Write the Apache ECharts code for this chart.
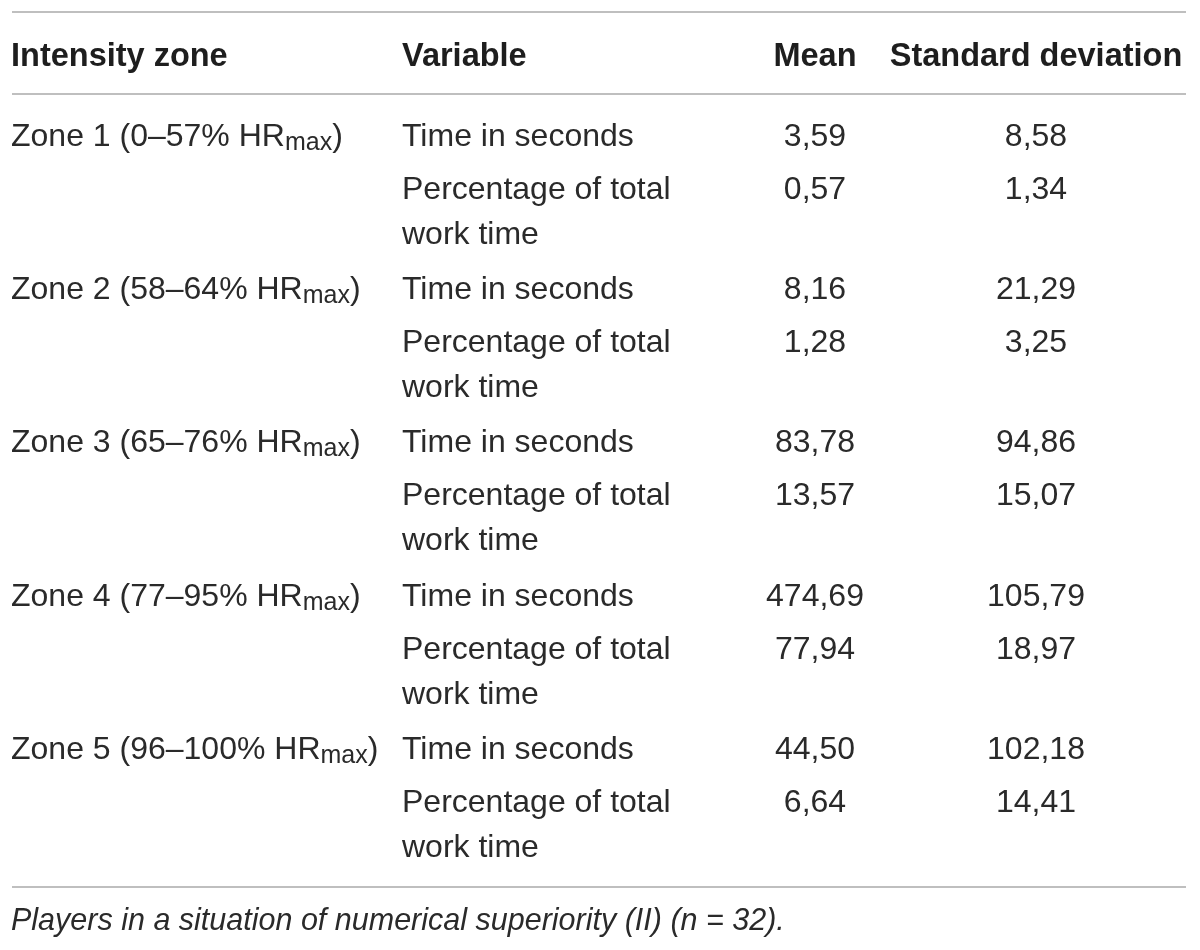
<!DOCTYPE html>
<html lang="en">

<head>
    <meta charset="UTF-8">
    <title>Intensity zones - numerical superiority</title>
    <script src="https://cdn.jsdelivr.net/npm/echarts@6/dist/echarts.min.js"></script>
    <style>
        body,
        html {
            margin: 0;
            padding: 0;
            background: #fff;
        }

        #main {
            width: 1200px;
            height: 950px;
        }
    </style>
</head>

<body>
    <div id="main"></div>
    <script>
        // table content
        var headers = ['Intensity zone', 'Variable', 'Mean', 'Standard deviation'];
        var zoneNames = ['Zone 1', 'Zone 2', 'Zone 3', 'Zone 4', 'Zone 5'];
        var zoneRanges = ['0–57%', '58–64%', '65–76%', '77–95%', '96–100%'];
        var variables = ['Time in seconds', 'Percentage of total work time'];
        var meanTime = [3.59, 8.16, 83.78, 474.69, 44.50];
        var sdTime = [8.58, 21.29, 94.86, 105.79, 102.18];
        var meanPct = [0.57, 1.28, 13.57, 77.94, 6.64];
        var sdPct = [1.34, 3.25, 15.07, 18.97, 14.41];
        var footnote = 'Players in a situation of numerical superiority (II) (n = 32).';

        // layout (page units, axes run 0..1200 and 0..950)
        var colX = [11, 402, 815, 1036];
        var colAlign = ['left', 'left', 'center', 'center'];
        var headerY = 57;
        var bodyTop = 137;
        var zoneStep = 153.3;
        var pctOffset = 53;
        var lineH = 45;
        var ruleY = [12, 94, 887];
        var ruleX = [12, 1186];
        var footY = 922;

        var FONT = '"Liberation Sans", Arial, sans-serif';
        var textColor = '#2a2a2a';

        function fmt(v) {
            return v.toFixed(2).replace('.', ',');
        }

        var cells = [];
        for (var c = 0; c < headers.length; c++) {
            cells.push({ value: [colX[c], headerY], text: headers[c], kind: 'head', align: colAlign[c] });
        }
        for (var i = 0; i < zoneNames.length; i++) {
            var y0 = bodyTop + i * zoneStep;
            var y1 = y0 + pctOffset;
            cells.push({ value: [colX[0], y0], text: '{t|' + zoneNames[i] + ' (' + zoneRanges[i] + ' HR}{s|max}{t|)}', kind: 'zone', align: 'left' });
            cells.push({ value: [colX[1], y0], text: variables[0], kind: 'body', align: 'left' });
            cells.push({ value: [colX[2], y0], text: fmt(meanTime[i]), kind: 'body', align: 'center' });
            cells.push({ value: [colX[3], y0], text: fmt(sdTime[i]), kind: 'body', align: 'center' });
            cells.push({ value: [colX[1], y1], text: variables[1], kind: 'wrap', align: 'left' });
            cells.push({ value: [colX[2], y1], text: fmt(meanPct[i]), kind: 'body', align: 'center' });
            cells.push({ value: [colX[3], y1], text: fmt(sdPct[i]), kind: 'body', align: 'center' });
        }
        cells.push({ value: [colX[0], footY], text: footnote, kind: 'foot', align: 'left' });

        var rules = ruleY.map(function (y) { return { value: [ruleX[0], y, ruleX[1]] }; });

        function renderCell(params, api) {
            var cell = cells[params.dataIndex];
            var p = api.coord([api.value(0), api.value(1)]);
            var style = {
                text: cell.text,
                fill: textColor,
                fontFamily: FONT,
                fontSize: 32,
                align: cell.align,
                verticalAlign: 'top',
                lineHeight: lineH
            };
            if (cell.kind === 'head') {
                style.fontWeight = 'bold';
                style.fontSize = 32.5;
                style.fill = '#1e1e1e';
            } else if (cell.kind === 'wrap') {
                style.width = 300;
                style.overflow = 'break';
            } else if (cell.kind === 'zone') {
                style.rich = {
                    t: { fontSize: 32, fontFamily: FONT, fill: textColor, lineHeight: lineH, verticalAlign: 'middle' },
                    s: { fontSize: 25, fontFamily: FONT, fill: textColor, lineHeight: lineH, verticalAlign: 'middle', padding: [12, 0, 0, 0] }
                };
            } else if (cell.kind === 'foot') {
                style.fontStyle = 'italic';
                style.fontSize = 30.5;
            }
            return {
                type: 'text',
                x: p[0],
                y: p[1] - lineH / 2,
                style: style
            };
        }

        function renderRule(params, api) {
            var a = api.coord([api.value(0), api.value(1)]);
            var b = api.coord([api.value(2), api.value(1)]);
            return {
                type: 'line',
                shape: { x1: a[0], y1: a[1], x2: b[0], y2: b[1] },
                style: { stroke: '#bfbfbf', lineWidth: 2 }
            };
        }

        var myChart = echarts.init(document.getElementById('main'), null, { renderer: 'canvas' });
        var option = {
            animation: false,
            backgroundColor: '#fff',
            grid: { left: 0, right: 0, top: 0, bottom: 0 },
            xAxis: { type: 'value', min: 0, max: 1200, show: false },
            yAxis: { type: 'value', min: 0, max: 950, inverse: true, show: false },
            series: [
                {
                    type: 'custom',
                    clip: false,
                    renderItem: renderRule,
                    data: rules
                },
                {
                    type: 'custom',
                    clip: false,
                    renderItem: renderCell,
                    data: cells.map(function (c) { return { value: c.value }; })
                }
            ]
        };
        myChart.setOption(option);
    </script>
</body>

</html>
